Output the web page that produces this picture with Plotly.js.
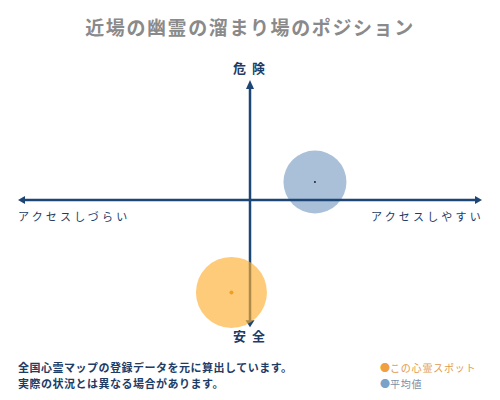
<!DOCTYPE html>
<html><head><meta charset="utf-8">
<script src="https://cdn.plot.ly/plotly-3.0.1.min.js"></script>
<style>body{margin:0;background:#fff}</style></head>
<body><div id="chart" style="width:500px;height:400px"></div>
<script>
const titleText = '近場の幽霊の溜まり場のポジション';
const seriesNames = ['この心霊スポット', '平均値'];
const xValues = [-8, 28];
const yValues = [-77, 15];
const topLabel = '危険';
const bottomLabel = '安全';
const leftLabel = 'アクセスしづらい';
const rightLabel = 'アクセスしやすい';
const noteLines = ['全国心霊マップの登録データを元に算出しています。', '実際の状況とは異なる場合があります。'];

const FONT = '"Noto Sans CJK JP", "Noto Sans", sans-serif';
const AX = '#1d4675';
const sp = (t, s) => '<span style="letter-spacing:' + s + 'px">' + t + '</span>';

const traces = [
  {x: [xValues[0]], y: [yValues[0]], mode: 'markers', name: seriesNames[0], hoverinfo: 'skip',
   marker: {size: 71, color: 'rgba(252,175,50,0.65)', line: {width: 0}}},
  {x: [xValues[0]], y: [yValues[0]], mode: 'markers', hoverinfo: 'skip',
   marker: {size: 4, color: '#f0a020'}},
  {x: [xValues[1]], y: [yValues[1]], mode: 'markers', name: seriesNames[1], hoverinfo: 'skip',
   marker: {size: 63, color: 'rgba(100,140,184,0.55)', line: {width: 0}}},
  {x: [xValues[1]], y: [yValues[1]], mode: 'markers', hoverinfo: 'skip',
   marker: {size: 2, color: '#222'}}
];

const head = (xa, ya, path, layer) => ({type: 'path', xref: 'x', yref: 'y', xsizemode: 'pixel', ysizemode: 'pixel',
  xanchor: xa, yanchor: ya, path: path, fillcolor: AX, line: {width: 0}, layer: layer});

const shapes = [
  {type: 'line', xref: 'x', yref: 'y', x0: -98, x1: 98, y0: 0, y1: 0, line: {color: AX, width: 2.5}, layer: 'above'},
  {type: 'line', xref: 'x', yref: 'y', x0: 0, x1: 0, y0: -102, y1: 95, line: {color: AX, width: 2.5}, layer: 'below'},
  head(-100, 0, 'M0,0 L7,4 L7,-4 Z', 'above'),
  head(100, 0, 'M0,0 L-7,4 L-7,-4 Z', 'above'),
  head(0, 100, 'M0,0 L-4,-9 L4,-9 Z', 'below'),
  head(0, -106, 'M0,0 L-4.5,7 L4.5,7 Z', 'below')
];

const px = p => (p - 18) / 464;
const py = p => (330 - p) / 250;
const ann = (x, y, text, xa, size, color, extra) => Object.assign({xref: 'paper', yref: 'paper', x: px(x), y: py(y),
  text: text, showarrow: false, xanchor: xa, yanchor: 'middle', font: {family: FONT, size: size, color: color}}, extra || {});

const annotations = [
  ann(252, 68, sp(topLabel, 6), 'center', 13, '#1d3c66', {font: {family: FONT, size: 13, color: '#1d3c66', weight: 'bold'}}),
  ann(252, 335, sp(bottomLabel, 6), 'center', 13, '#1d3c66', {font: {family: FONT, size: 13, color: '#1d3c66', weight: 'bold'}}),
  ann(16, 216, sp(leftLabel, 3.2), 'left', 11, '#1d3c66'),
  ann(486, 216, sp(rightLabel, 3.2), 'right', 11, '#1d3c66'),
  ann(16, 367, sp(noteLines[0], 0.5), 'left', 11, '#1d3c66', {font: {family: FONT, size: 11, color: '#1d3c66', weight: 'bold'}}),
  ann(16, 383, sp(noteLines[1], 0.5), 'left', 11, '#1d3c66', {font: {family: FONT, size: 11, color: '#1d3c66', weight: 'bold'}}),
  ann(378, 367, '<span style="color:#f0a040">●</span>' + sp(seriesNames[0], 0.8), 'left', 10, '#e09a50'),
  ann(378, 383, '<span style="color:#7aa2c8">●</span>' + sp(seriesNames[1], 0.8), 'left', 10, '#7890aa')
];

const layout = {
  width: 500, height: 400,
  margin: {l: 18, r: 18, t: 80, b: 70},
  paper_bgcolor: '#fff', plot_bgcolor: '#fff',
  showlegend: false,
  title: {text: sp(titleText, 1.6), x: 0.5, xanchor: 'center', y: 1 - 28 / 400, yanchor: 'middle', yref: 'container',
    font: {family: FONT, size: 19, color: '#8a8a8a', weight: 'bold'}},
  xaxis: {range: [-100, 100], visible: false, fixedrange: true},
  yaxis: {range: [-108.33, 100], visible: false, fixedrange: true},
  shapes: shapes,
  annotations: annotations
};

Plotly.newPlot('chart', traces, layout, {displayModeBar: false, staticPlot: true});
</script></body></html>
